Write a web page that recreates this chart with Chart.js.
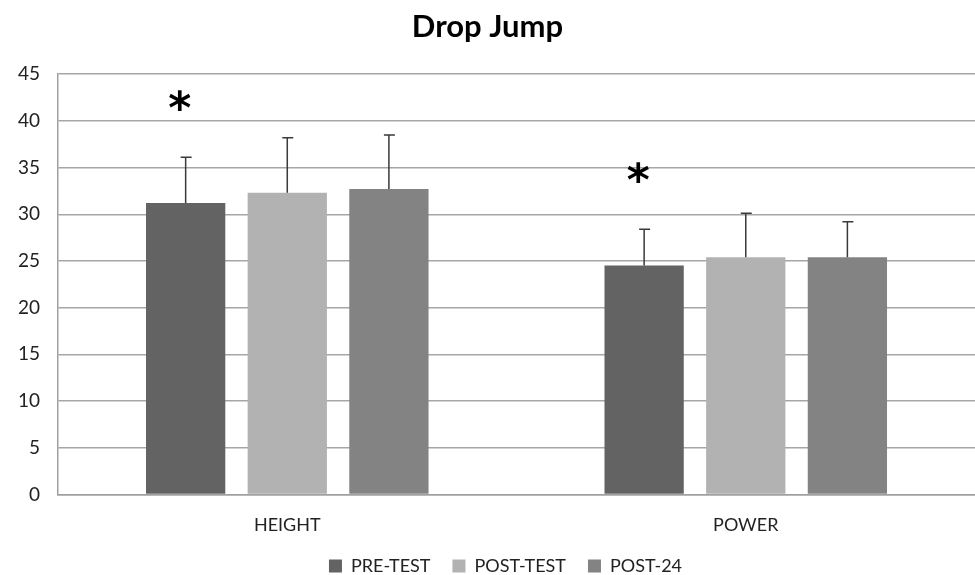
<!DOCTYPE html>
<html>
<head>
<meta charset="utf-8">
<script src="https://cdn.jsdelivr.net/npm/chart.js@4"></script>
<style>
    html, body { margin: 0; padding: 0; background: #fff; }
    #wrap { width: 975px; height: 575px; }
</style>
</head>
<body>
<div id="wrap"><canvas id="dropJumpChart"></canvas></div>
<script>
const categories = ['HEIGHT', 'POWER'];
const seriesNames = ['PRE-TEST', 'POST-TEST', 'POST-24'];
const preTest = [31.2, 24.5];
const postTest = [32.3, 25.4];
const post24 = [32.7, 25.4];
const preTestErr = [4.9, 3.9];
const postTestErr = [5.9, 4.7];
const post24Err = [5.8, 3.8];
// significance markers: one flag per category, per series
const preTestSig = [true, true];
const postTestSig = [false, false];
const post24Sig = [false, false];
const yTicks = [0, 5, 10, 15, 20, 25, 30, 35, 40, 45];

const colors = ['#636363', '#b2b2b2', '#838383'];
const errors = [preTestErr, postTestErr, post24Err];
const sigs = [preTestSig, postTestSig, post24Sig];

const errorBars = {
    id: 'errorBars',
    afterDatasetsDraw(chart) {
        const ctx = chart.ctx;
        const y = chart.scales.y;
        chart.data.datasets.forEach((ds, i) => {
            const meta = chart.getDatasetMeta(i);
            meta.data.forEach((bar, j) => {
                const top = ds.data[j] + errors[i][j];
                const yTop = y.getPixelForValue(top);
                ctx.save();
                ctx.strokeStyle = '#3a3a3a';
                ctx.lineWidth = 1.5;
                ctx.beginPath();
                ctx.moveTo(bar.x, bar.y);
                ctx.lineTo(bar.x, yTop);
                ctx.moveTo(bar.x - 5, yTop);
                ctx.lineTo(bar.x + 6, yTop);
                ctx.stroke();
                if (sigs[i][j]) {
                    ctx.fillStyle = '#000';
                    ctx.font = 'bold 44px "DejaVu Sans"';
                    ctx.textAlign = 'center';
                    ctx.textBaseline = 'middle';
                    ctx.fillText('*', bar.x - 6, y.getPixelForValue(top + 5.6) + 7);
                }
                ctx.restore();
            });
        });
    }
};

// keep wide gaps between legend items but a tight legend row height
const legendFit = {
    id: 'legendFit',
    beforeUpdate(chart) {
        const lg = chart.legend;
        if (lg && !lg.fitPatched) {
            const fit = lg.fit;
            lg.fit = function () { fit.call(this); this.height -= 23; };
            lg.fitPatched = true;
        }
    },
    afterLayout(chart) {
        const lg = chart.legend;
        lg.top -= 13;
        lg.height += 23;
        lg.bottom = lg.top + lg.height;
        lg.left += 18;
        lg.right += 18;
    }
};

new Chart(document.getElementById('dropJumpChart'), {
    type: 'bar',
    data: {
        labels: categories,
        datasets: [
            { label: seriesNames[0], data: preTest, backgroundColor: colors[0] },
            { label: seriesNames[1], data: postTest, backgroundColor: colors[1] },
            { label: seriesNames[2], data: post24, backgroundColor: colors[2] }
        ]
    },
    options: {
        responsive: true,
        maintainAspectRatio: false,
        animation: false,
        devicePixelRatio: 1,
        datasets: {
            bar: { categoryPercentage: 0.665, barPercentage: 0.78 }
        },
        layout: { padding: { left: 0, right: 0, top: 0, bottom: 0 } },
        scales: {
            x: {
                grid: { display: false },
                border: { color: '#a0a0a0', width: 1.5 },
                ticks: { color: '#222', font: { family: 'Lato', size: 18 }, padding: 12 }
            },
            y: {
                min: 0,
                max: 45,
                afterBuildTicks: (axis) => { axis.ticks = yTicks.map(v => ({ value: v })); },
                grid: { color: '#a6a6a6', lineWidth: 1.5, drawTicks: false },
                border: { color: '#a0a0a0', width: 1.5 },
                ticks: { color: '#222', font: { family: 'Lato', size: 19 }, padding: 18 }
            }
        },
        plugins: {
            title: {
                display: true,
                text: 'Drop Jump',
                color: '#000',
                font: { family: 'Lato', size: 31, weight: 'bold' },
                padding: { top: 8, bottom: 29 }
            },
            legend: {
                position: 'bottom',
                labels: {
                    color: '#222',
                    font: { family: 'Lato', size: 18 },
                    boxWidth: 13,
                    boxHeight: 13,
                    padding: 22
                }
            },
            tooltip: { enabled: false }
        }
    },
    plugins: [errorBars, legendFit]
});
</script>
</body>
</html>
